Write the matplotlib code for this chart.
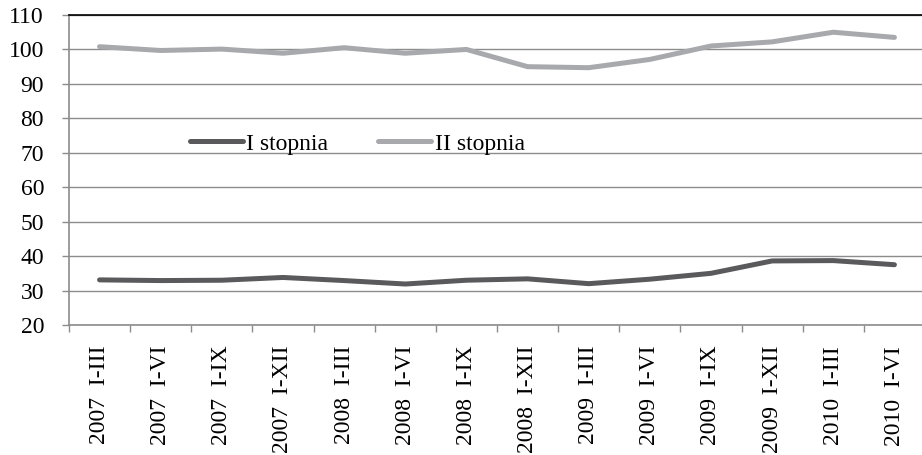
import matplotlib.pyplot as plt
import numpy as np

# Kwartalne dane narastające 2007-2010
periods = ["2007  I-III", "2007  I-VI", "2007  I-IX", "2007  I-XII",
           "2008  I-III", "2008  I-VI", "2008  I-IX", "2008  I-XII",
           "2009  I-III", "2009  I-VI", "2009  I-IX", "2009  I-XII",
           "2010  I-III", "2010  I-VI"]
stopnia_1 = [33.1, 32.9, 33.0, 33.8, 32.9, 31.9, 33.0, 33.4, 32.0, 33.3, 35.0, 38.6, 38.7, 37.5]
stopnia_2 = [100.8, 99.7, 100.1, 98.9, 100.5, 98.9, 100.0, 95.0, 94.7, 97.1, 101.0, 102.2, 105.0, 103.5]

plt.rcParams['font.family'] = ['Liberation Serif', 'DejaVu Serif']

fig = plt.figure(figsize=(9.22, 4.55), dpi=100)
ax = fig.add_axes([69 / 922, 1 - 325 / 455, 856 / 922, 310 / 455])

x = np.arange(len(periods))
ax.plot(x, stopnia_1, color='#5a5a5c', lw=3.6, solid_capstyle='round', label='I stopnia')
ax.plot(x, stopnia_2, color='#a7a9ac', lw=3.6, solid_capstyle='round', label='II stopnia')

ax.set_xlim(-0.5, len(periods) - 0.5)
ax.set_ylim(20, 110)
ax.set_yticks(np.arange(20, 111, 10))
ax.yaxis.grid(True, color='#8c8c8c', lw=1.0)
ax.set_axisbelow(True)

# etykiety kategorii w środku, znaczniki na granicach
ax.set_xticks(x)
ax.set_xticklabels(periods, rotation=90, va='top', ha='center', fontsize=17)
ax.set_xticks(np.arange(-0.5, len(periods), 1), minor=True)
ax.tick_params(axis='x', which='major', length=0, pad=15)
ax.tick_params(axis='x', which='minor', length=5, color='#8c8c8c', width=1)
ax.tick_params(axis='y', length=5, color='#8c8c8c', width=1, labelsize=17, pad=13)

for s in ['left', 'bottom']:
    ax.spines[s].set_color('#8c8c8c')
    ax.spines[s].set_linewidth(1.2)
ax.spines['right'].set_visible(False)
ax.spines['top'].set_color('black')
ax.spines['top'].set_linewidth(1.2)

ax.legend(loc='center left', bbox_to_anchor=(0.141, 0.584), ncol=2, frameon=False,
          fontsize=17, handlelength=2.25, handletextpad=0.15, columnspacing=2.1,
          borderaxespad=0, borderpad=0)

fig.savefig('out.png', dpi=100)
